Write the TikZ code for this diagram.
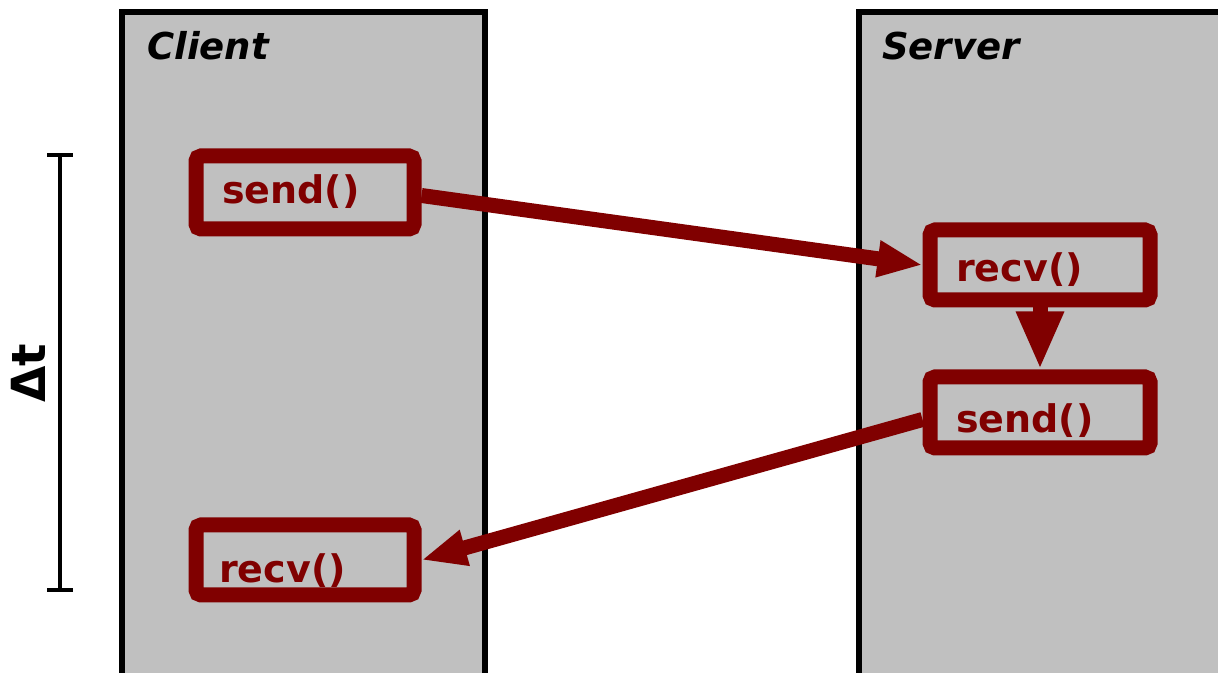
\documentclass[tikz,border=0pt]{standalone}
\usepackage{fontspec}
\setmainfont{DejaVu Sans}
\usetikzlibrary{arrows.meta}
\definecolor{dred}{RGB}{128,0,0}
\definecolor{fgray}{RGB}{192,192,192}
\tikzset{
  frame/.style={draw=black,fill=fgray,line width=6pt},
  fnbox/.style={draw=dred,line width=15pt,rounded corners=5pt,inner sep=0pt},
  fnlbl/.style={text=dred,font=\fontsize{38}{42}\selectfont\bfseries,inner sep=0pt,anchor=base west},
  ttl/.style={text=black,font=\fontsize{37}{42}\selectfont\bfseries\itshape,inner sep=0pt,anchor=base west},
  msg/.style={draw=dred,line width=15pt,-{Triangle[length=45pt,width=34pt]}},
  bar/.style={draw=black,line width=4.5pt}
}
\begin{document}
\begin{tikzpicture}[x=1pt,y=1pt]
\useasboundingbox (0,0) rectangle (1218,672);
\clip (0,0) rectangle (1218,672);
\fill[white] (0,0) rectangle (1218,672);
% frames
\draw[frame] (122,660) rectangle (485,-20);
\draw[frame] (859,660) rectangle (1240,-20);
\node[ttl] (client) at (147,612) {Client};
\node[ttl] (server) at (882,612) {Server};
% delta t bar
\coordinate (bt) at (60,517);
\coordinate (bb) at (60,82);
\draw[bar] (bt) -- (bb);
\draw[bar] ([xshift=-13pt]bt) -- ([xshift=13pt]bt);
\draw[bar] ([xshift=-13pt]bb) -- ([xshift=13pt]bb);
\node[rotate=90,anchor=base west,inner sep=0pt,font=\fontsize{47}{50}\selectfont\bfseries] (dt) at (46,269) {Δt};
% boxes
\node[fnbox,minimum width=218pt,minimum height=73pt] (cs) at (305,479.5) {};
\node[fnbox,minimum width=218pt,minimum height=70pt] (cr) at (305,112) {};
\node[fnbox,minimum width=220pt,minimum height=70pt] (sr) at (1040,407) {};
\node[fnbox,minimum width=220pt,minimum height=71pt] (ss) at (1040,259.5) {};
\node[fnlbl] (tcs) at (222,468) {send()};
\node[fnlbl] (tcr) at (219,89) {recv()};
\node[fnlbl] (tsr) at (956,390) {recv()};
\node[fnlbl] (tss) at (956,239) {send()};
% arrows
\draw[msg] ([yshift=-3pt]cs.east) -- (sr.west);
\draw[msg,-{Triangle[length=58pt,width=44pt]}] (sr.south) -- (ss.north);
\draw[msg] ([yshift=-7pt]ss.west) -- (cr.east);
\end{tikzpicture}
\end{document}
